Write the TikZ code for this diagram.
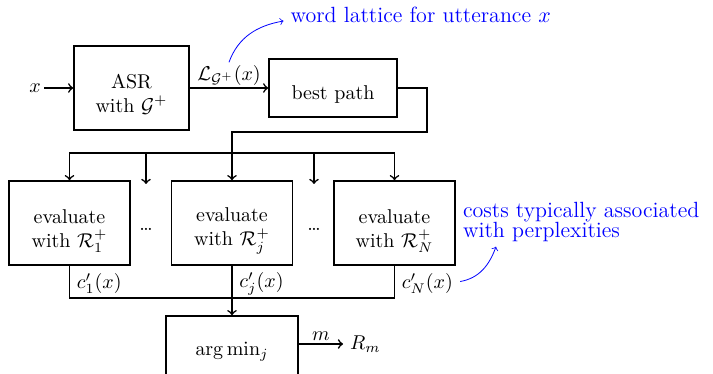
\documentclass[tikz,border=0pt]{standalone}
\usetikzlibrary{calc}
\begin{document}
\begin{tikzpicture}[x=0.5pt,y=-0.5pt,
  box/.style={draw,thick,inner sep=0pt},
  txt/.style={align=center,inner sep=0pt},
  conn/.style={thick},
  note/.style={blue,thin},
  notetext/.style={blue,font=\fontsize{11}{10}\selectfont},
  lab/.style={right}]
\useasboundingbox (0,0) rectangle (713,374);
% top row
\node[box,minimum width=57.5pt,minimum height=42pt] (asr) at (131.5,88) {};
\node[txt] (asrT) at ($(asr.center)+(0,6)$) {ASR\\with $\mathcal{G}^+$};
\node[box,minimum width=64pt,minimum height=29pt] (bp) at (333,88) {};
\node[txt] (bpT) at ($(bp.center)+(0,7)$) {best path};
\node[inner sep=1.5pt] (x) at (35,88) {$x$};
\draw[conn,->] (x) -- (asr.west);
\draw[conn,->] (asr.east) -- node[above,inner sep=1pt] (L) {$\mathcal{L}_{\mathcal{G}^+}(x)$} (bp.west);
\node[notetext,anchor=base west] (wl) at (283.5,23) {word lattice for utterance $x$};
\draw[note,->] (L.north) to[out=70,in=190] ([yshift=1pt]wl.base west);
% evaluate row
\node[box,minimum width=60.5pt,minimum height=42pt] (e1) at (69.5,223) {};
\node[txt] (e1T) at ($(e1.center)+(0,8)$) {evaluate\\with $\mathcal{R}_1^+$};
\node[box,minimum width=60.5pt,minimum height=42pt] (ej) at (232,223) {};
\node[txt] (ejT) at ($(ej.center)+(0,8)$) {evaluate\\with $\mathcal{R}_j^+$};
\node[box,minimum width=60.5pt,minimum height=42pt] (eN) at (394.5,223) {};
\node[txt] (eNT) at ($(eN.center)+(0,8)$) {evaluate\\with $\mathcal{R}_N^+$};
\node (dots1) at (146,229) {\dots};
\node (dots2) at (314,229) {\dots};
\coordinate (dt1) at (146,184);
\coordinate (dt2) at (314,184);
\coordinate (split) at (232,153);
\draw[conn,<->] (e1.north) |- (split) -| (eN.north);
\draw[conn,->] (dt1 |- split) -- (dt1);
\draw[conn,->] (dt2 |- split) -- (dt2);
\draw[conn,->] (bp.east) -- ++(29,0) |- ($(ej.north)+(0,-48)$) -- (ej.north);
% outputs
\node[box,minimum width=66pt,minimum height=50pt] (argmin) at (232,366) {};
\node[inner sep=0pt] (argT) at (232,352) {$\arg\min_j$};
\coordinate (bus) at (232,298);
\draw[conn] (e1.south) -- node[lab,pos=0.55] (c1) {$c'_1(x)$} (e1.south |- bus) -- (eN.south |- bus) -- node[lab,pos=0.45] (cN) {$c'_N(x)$} (eN.south);
\draw[conn,->] (ej.south) -- node[lab,pos=0.37] (cj) {$c'_j(x)$} (argmin.north);
\node[anchor=west] (rm) at (343,344) {$R_m$};
\draw[conn,->] (argmin.east |- rm.west) -- node[above,inner sep=1.5pt] (m) {$m$} (rm.west);
\node[notetext,align=left,anchor=north west] (costs) at (456,195) {costs typically associated\\with perplexities};
\draw[note,->] ([yshift=1pt]cN.east) to[out=10,in=-110] ([xshift=20pt,yshift=1pt]costs.south west);
\end{tikzpicture}
\end{document}
